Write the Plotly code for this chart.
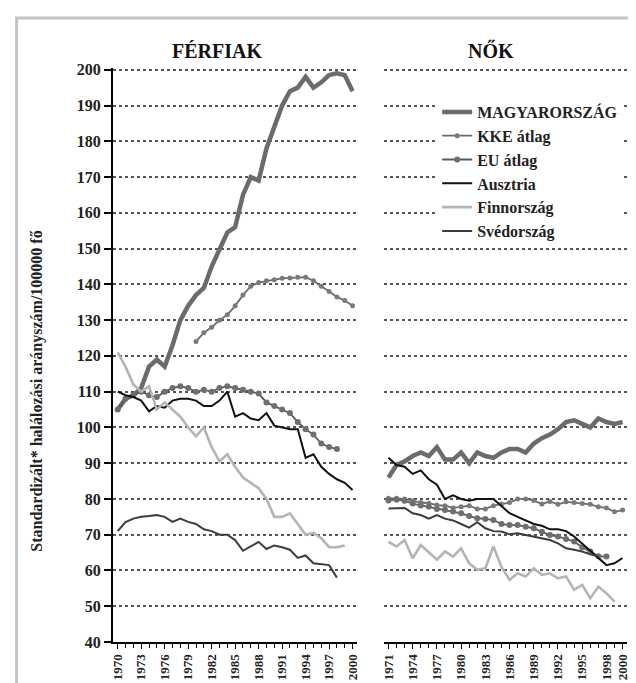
import plotly.graph_objects as go

# évek
years_m = list(range(1970, 2001))
years_f = list(range(1971, 2001))

# FÉRFIAK
hun_m = [105, 108, 109, 111, 117, 119, 117, 123, 130, 134, 137, 139, 145, 150, 154.5, 156,
         165, 170, 169, 178, 184, 190, 194, 195, 198, 195, 196.5, 198.5, 199, 198.5, 194]
kke_m_years = list(range(1980, 2001))
kke_m = [124, 126.5, 128, 130, 131.5, 134, 137, 139.5, 140.5, 141, 141.3, 141.7, 141.8,
         142, 142, 141, 139.5, 138, 136.5, 135.5, 134]
eu_m = [105, 108, 109, 110, 109, 108.5, 110, 111, 111.5, 111, 110, 110.5, 110, 111, 111.5,
        111, 110.5, 110, 109.5, 107, 106, 105, 104, 101.5, 99.5, 98, 95.5, 94.5, 94]
aut_m = [110, 109, 108.5, 107.5, 104.5, 106, 105.5, 107.5, 108, 108, 107.5, 106, 106, 107.5,
         110, 103, 104, 102.5, 102, 104, 100.5, 100, 99.5, 99.5, 91.5, 92.5, 89, 87, 85.5,
         84.5, 82.5]
fin_m = [121, 117, 112, 110, 111.5, 105, 107, 105, 103, 100, 97.5, 100, 94.5, 90.5, 92.5,
         89, 86, 84.5, 83, 80, 75, 75, 76, 73, 70, 70.5, 69, 66.5, 66.5, 67]
swe_m = [71, 73.5, 74.5, 75, 75.2, 75.5, 75, 73.6, 74.5, 73.6, 73, 71.5, 71, 70, 70, 68.5,
         65.5, 66.7, 68, 66, 67, 66.5, 65.8, 63.5, 64.2, 62, 61.8, 61.5, 58]

# NŐK
hun_f = [86, 89.5, 90.5, 92, 93, 92, 94.5, 91, 91, 93, 90, 93, 92, 91.5, 93, 94, 94, 93,
         95.5, 97, 98, 99.5, 101.5, 102, 101, 100, 102.5, 101.5, 101, 101.5]
kke_f = [80.2, 80.2, 80, 79.5, 79, 78.8, 78.3, 78.1, 77.5, 77.8, 78.1, 77.2, 77.2, 78.1,
         78.6, 79, 80, 80, 79.6, 78.6, 79.3, 78.5, 79.2, 79, 78.7, 78.5, 77.8, 77.5, 76.4, 76.9]
eu_f = [79.6, 79.8, 79.5, 78.7, 78.2, 77.8, 77.2, 76.9, 76.5, 76, 75.2, 74.6, 74.4, 74.1,
        73, 72.7, 72.7, 72.2, 71.8, 70.8, 69.9, 69.5, 68.8, 68.1, 66.5, 65.3, 64, 63.9]
aut_f = [91.5, 89.5, 89, 87, 88, 85.5, 84, 80, 81, 80, 79.5, 80, 80, 80, 78, 76, 75, 74, 73,
         72.5, 71.5, 71.5, 71, 69.5, 67.5, 65.5, 63.5, 61.5, 62, 63.5]
fin_f = [68, 66.7, 68.5, 63.4, 67.1, 65, 63, 65.3, 63.9, 66.2, 62, 60.2, 60.6, 66.7, 61,
         57.4, 59.2, 58.3, 60.6, 58.8, 59.2, 57.8, 58.3, 54.6, 56, 52.2, 55.5, 53.6, 51.3]
swe_f = [77.3, 77.5, 77.5, 76, 75.5, 74.5, 75.5, 74.5, 74, 73, 72, 73.5, 71.8, 71, 70.9,
         70.1, 70.4, 69.9, 69.5, 69, 68.5, 67.6, 66.2, 65.8, 65.3, 64.5, 64]

ticks_m = [1970, 1973, 1976, 1979, 1982, 1985, 1988, 1991, 1994, 1997, 2000]
ticks_f = [1971, 1974, 1977, 1980, 1983, 1986, 1989, 1992, 1995, 1998, 2000]
y_ticks = list(range(40, 201, 10))

FONT = "Liberation Serif, Times New Roman, serif"

styles = {
    "MAGYARORSZÁG": dict(line=dict(color="#6b6b6b", width=4.5), mode="lines"),
    "KKE átlag": dict(line=dict(color="#6a6a6a", width=1.8), mode="lines+markers",
                      marker=dict(size=5, color="#7a7a7a")),
    "EU átlag": dict(line=dict(color="#5a5a5a", width=1.8), mode="lines+markers",
                     marker=dict(size=6, color="#6e6e6e")),
    "Ausztria": dict(line=dict(color="#111111", width=2), mode="lines"),
    "Finnország": dict(line=dict(color="#b4b4b4", width=2.6), mode="lines"),
    "Svédország": dict(line=dict(color="#3c3c3c", width=2), mode="lines"),
}

left = [
    ("MAGYARORSZÁG", years_m, hun_m),
    ("KKE átlag", kke_m_years, kke_m),
    ("EU átlag", years_m[:len(eu_m)], eu_m),
    ("Ausztria", years_m, aut_m),
    ("Finnország", years_m[:len(fin_m)], fin_m),
    ("Svédország", years_m[:len(swe_m)], swe_m),
]
right = [
    ("MAGYARORSZÁG", years_f, hun_f),
    ("KKE átlag", years_f, kke_f),
    ("EU átlag", years_f[:len(eu_f)], eu_f),
    ("Ausztria", years_f, aut_f),
    ("Finnország", years_f[:len(fin_f)], fin_f),
    ("Svédország", years_f[:len(swe_f)], swe_f),
]

fig = go.Figure()
for name, xs, ys in left:
    fig.add_trace(go.Scatter(x=xs, y=ys, name=name, legendgroup=name, xaxis="x", yaxis="y",
                             showlegend=True, **styles[name]))
for name, xs, ys in right:
    fig.add_trace(go.Scatter(x=xs, y=ys, name=name, legendgroup=name, xaxis="x2", yaxis="y2",
                             showlegend=False, **styles[name]))

xcommon = dict(showgrid=False, zeroline=False, showline=True, linecolor="black", linewidth=2,
               ticks="outside", ticklen=5, tickcolor="black", tickangle=-90,
               tickfont=dict(family=FONT, size=13, color="#222", weight="bold"),
               minor=dict(ticks="outside", ticklen=4, dtick=1, tickcolor="black", showgrid=False))
ycommon = dict(range=[40, 200.5], tickvals=y_ticks, showgrid=True, gridcolor="#555",
               griddash="dot", gridwidth=1.5, zeroline=False)

fig.update_layout(
    width=636, height=683, autosize=False,
    margin=dict(l=105, r=11, t=60, b=48),
    paper_bgcolor="white", plot_bgcolor="white",
    font=dict(family=FONT, color="#222"),
    xaxis=dict(domain=[0, 0.471], range=[1969.4, 2000.5], tickvals=ticks_m,
               ticktext=[str(t) for t in ticks_m], minor_tick0=1970, **xcommon),
    xaxis2=dict(domain=[0.525, 0.995], range=[1970.5, 2000.6], tickvals=ticks_f,
                ticktext=[str(t) for t in ticks_f], minor_tick0=1971, anchor="y2", **xcommon),
    yaxis=dict(showline=True, linecolor="black", linewidth=2, ticks="outside", ticklen=7,
               tickwidth=2, tickcolor="black",
               tickfont=dict(family=FONT, size=16, color="#222", weight="bold"), **ycommon),
    yaxis2=dict(anchor="x2", showline=False, showticklabels=False, ticks="", **ycommon),
    legend=dict(x=0.627, y=0.953, xanchor="left", yanchor="top", bgcolor="white",
                font=dict(family=FONT, size=16, color="#222", weight="bold"),
                tracegroupgap=0, itemwidth=30),
    showlegend=True,
)

fig.add_annotation(text="FÉRFIAK", x=0.202, y=1.03, xref="paper", yref="paper",
                   xanchor="center", yanchor="middle", showarrow=False,
                   font=dict(family=FONT, size=20, color="#111", weight="bold"))
fig.add_annotation(text="NŐK", x=0.731, y=1.03, xref="paper", yref="paper",
                   xanchor="center", yanchor="middle", showarrow=False,
                   font=dict(family=FONT, size=20, color="#111", weight="bold"))
fig.add_annotation(text="Standardizált* halálozási arányszám/100000 fő", textangle=-90,
                   x=-0.146, y=0.437, xref="paper", yref="paper", showarrow=False,
                   xanchor="center", yanchor="middle",
                   font=dict(family=FONT, size=16, color="#222", weight="bold"))

# keret
fig.add_shape(type="rect", xref="paper", yref="paper", x0=-0.1865, x1=1.03, y0=-0.1, y1=1.087,
              line=dict(color="#c4c4c4", width=3), fillcolor="rgba(0,0,0,0)")

fig.write_html("out.html")
